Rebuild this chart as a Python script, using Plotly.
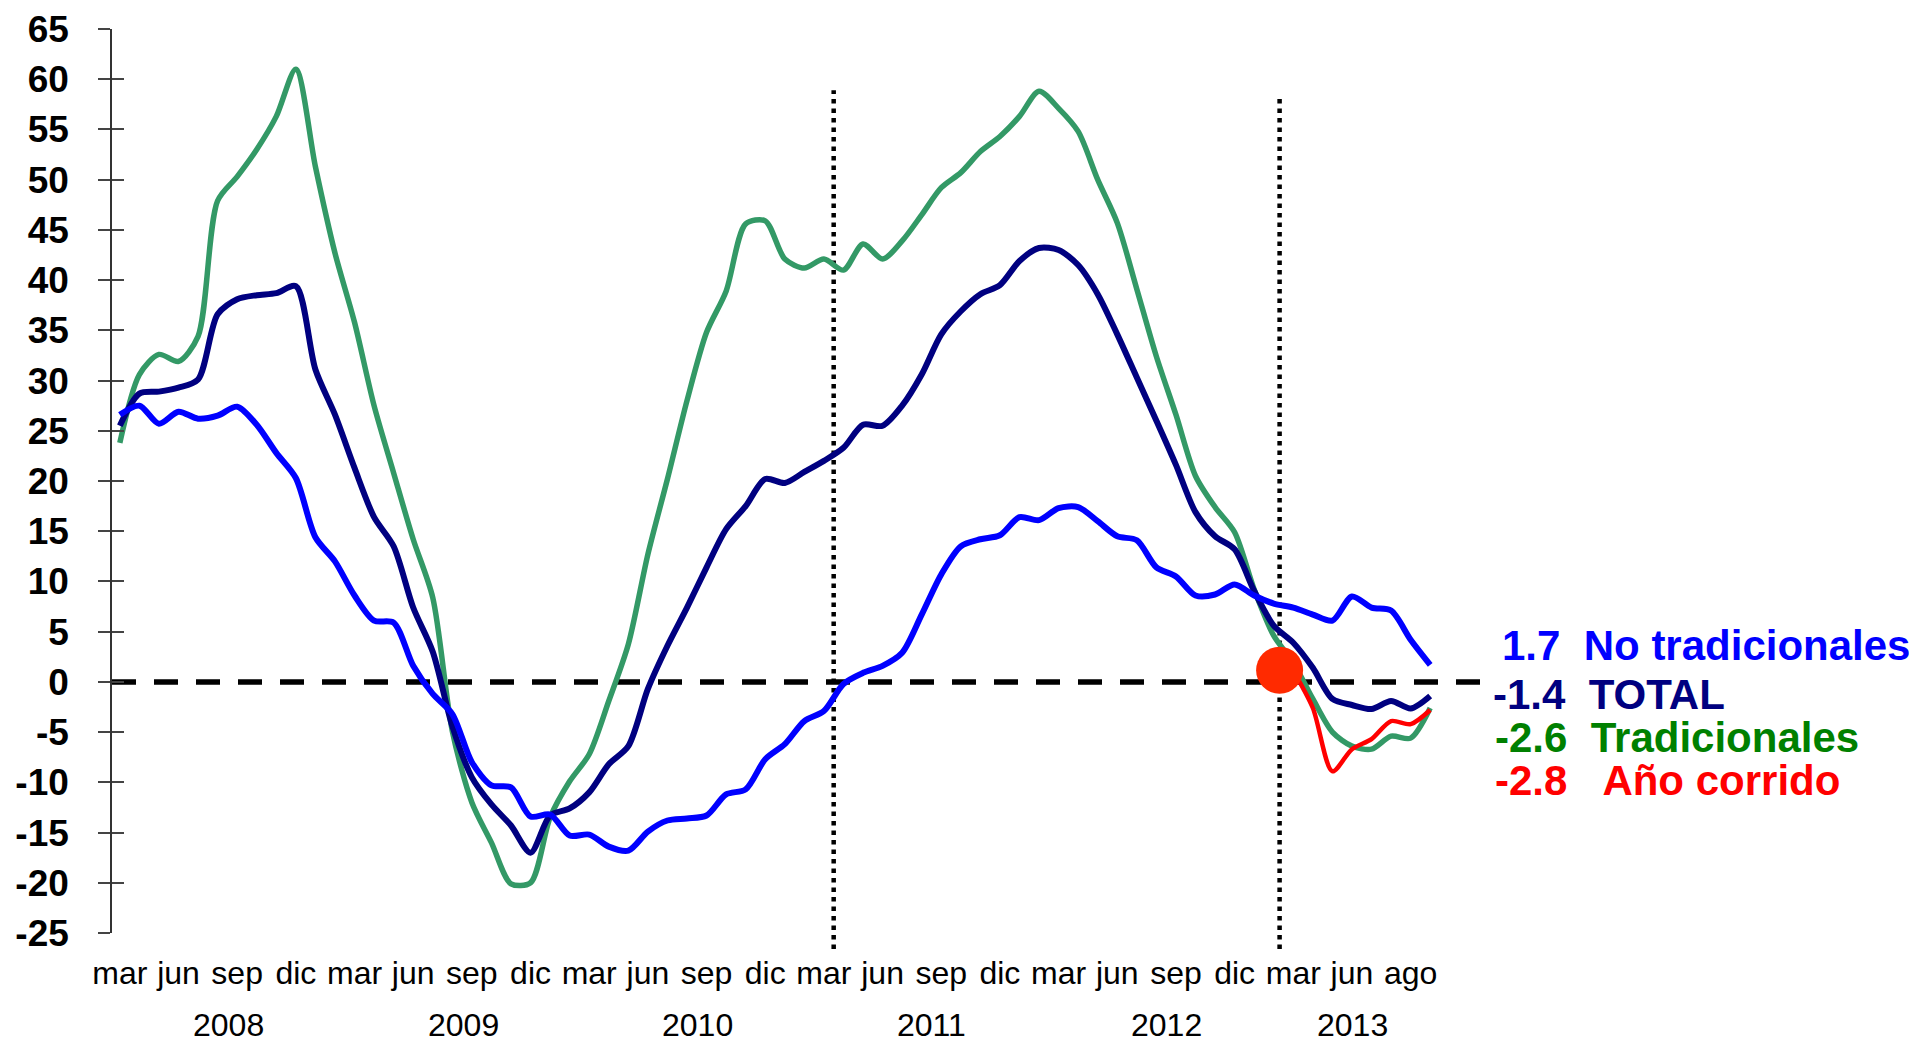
import plotly.graph_objects as go

# ---------------- data ----------------
# month index: 0 = mar 2008, monthly steps
month_idx = list(range(68))

no_tradicionales = [26.6, 27.5, 25.7, 26.9, 26.2, 26.5, 27.4, 25.6, 22.8, 20.3,
                    14.4, 12.0, 8.6, 6.1, 5.9, 1.6, -1.2, -3.2, -8.0, -10.3,
                    -10.5, -13.4, -13.2, -15.3, -15.2, -16.4, -16.8, -14.9, -13.8, -13.6,
                    -13.3, -11.2, -10.7, -7.7, -6.2, -3.9, -2.9, -0.2, 0.9, 1.6,
                    2.9, 6.7, 10.7, 13.5, 14.2, 14.6, 16.4, 16.1, 17.3, 17.4,
                    16.0, 14.5, 14.1, 11.4, 10.5, 8.6, 8.7, 9.7, 8.6, 7.8,
                    7.4, 6.7, 6.1, 8.5, 7.4, 7.1, 4.2, 1.7]

total = [25.5, 28.7, 28.9, 29.3, 30.1, 36.6, 38.1, 38.5, 38.7, 39.4,
         31.1, 26.6, 21.3, 16.4, 13.5, 7.4, 3.0, -4.4, -9.5, -12.2,
         -14.3, -17.0, -13.3, -12.6, -11.0, -8.2, -6.4, -0.7, 3.6, 7.4,
         11.4, 15.2, 17.5, 20.2, 19.8, 20.9, 22.0, 23.3, 25.6, 25.5,
         27.5, 30.6, 34.6, 36.9, 38.6, 39.5, 41.9, 43.2, 43.0, 41.5,
         38.6, 34.6, 30.3, 26.0, 21.6, 16.9, 14.5, 13.2, 9.05, 5.6,
         3.9, 1.4, -1.7, -2.3, -2.7, -1.9, -2.65, -1.4]

tradicionales = [23.8, 30.6, 32.6, 31.9, 34.4, 47.9, 50.3, 53.0, 56.3, 61.0,
                 51.3, 42.7, 35.8, 27.5, 20.8, 14.2, 8.4, -4.9, -12.0, -16.0,
                 -20.1, -20.0, -13.5, -9.9, -7.2, -1.9, 3.75, 12.7, 20.2, 28.0,
                 34.8, 38.9, 45.6, 45.9, 42.1, 41.2, 42.1, 41.0, 43.6, 42.1,
                 43.9, 46.5, 49.2, 50.7, 52.8, 54.3, 56.3, 58.8, 57.1, 54.8,
                 50.0, 45.7, 39.1, 32.4, 26.6, 20.5, 17.4, 14.9, 9.2, 4.6,
                 1.9, -1.7, -5.0, -6.4, -6.7, -5.4, -5.6, -2.6]

anio_idx = list(range(60, 68))
anio_corrido = [1.1, -2.6, -8.9, -6.7, -5.7, -3.9, -4.2, -2.8]

# highlighted point and reference lines
marker_x = [59.3]
marker_y = [1.16]
ref_lines_x = [36.5, 59.3]
ref_lines_top = [58.9, 58.25]
ref_lines_bottom = -26.6

# axis labels
y_ticks = list(range(-25, 70, 5))
y_tick_text = [str(v) for v in y_ticks]
x_tick_pos = list(range(0, 64, 3)) + [66]
x_tick_text = ["mar", "jun", "sep", "dic"] * 5 + ["mar", "jun", "ago"]
year_text = ["2008", "2009", "2010", "2011", "2012", "2013"]
year_pos = [5.55, 17.55, 29.55, 41.5, 53.5, 63.05]

# end labels
end_values = ["1.7", "-1.4", "-2.6", "-2.8"]
end_names = ["No tradicionales", "TOTAL", "Tradicionales", "Año corrido"]
end_gaps = ["\u00a0\u00a0", "\u00a0\u00a0", "\u00a0\u00a0", "\u00a0\u00a0\u00a0"]
end_colors = ["#0000FF", "#000080", "#008000", "#FF0000"]
end_y = [3.6, -1.25, -5.55, -9.8]
end_x = [1.0123, 1.0056, 1.0074, 1.0074]

X_RANGE = [-0.4, 69.7]
Y_RANGE = [-25, 65]
FONT = "Liberation Sans, Arial, sans-serif"

# ---------------- figure ----------------
fig = go.Figure()

fig.add_trace(go.Scatter(x=month_idx, y=tradicionales, mode="lines",
                         line=dict(color="#339966", width=5.5, shape="spline", smoothing=0.8),
                         name="Tradicionales", hoverinfo="skip"))
fig.add_trace(go.Scatter(x=month_idx, y=total, mode="lines",
                         line=dict(color="#000080", width=6, shape="spline", smoothing=0.8),
                         name="TOTAL", hoverinfo="skip"))
fig.add_trace(go.Scatter(x=month_idx, y=no_tradicionales, mode="lines",
                         line=dict(color="#0000FF", width=6, shape="spline", smoothing=0.8),
                         name="No tradicionales", hoverinfo="skip"))
fig.add_trace(go.Scatter(x=anio_idx, y=anio_corrido, mode="lines",
                         line=dict(color="#FF0000", width=4.5, shape="spline", smoothing=0.8),
                         name="Año corrido", hoverinfo="skip"))
fig.add_trace(go.Scatter(x=marker_x, y=marker_y, mode="markers",
                         marker=dict(color="#FF2A00", size=47, line=dict(width=0)),
                         cliponaxis=False, hoverinfo="skip"))
# trace to activate the overlay axis carrying the inner halves of the ticks
fig.add_trace(go.Scatter(x=[None], y=[None], yaxis="y2", mode="lines", hoverinfo="skip"))

ymin, ymax = Y_RANGE
shapes = [dict(type="line", xref="x", yref="y", x0=X_RANGE[0], x1=X_RANGE[1], y0=0, y1=0,
               line=dict(color="black", width=5.5, dash="24px,18px"), layer="below")]
for xv, top in zip(ref_lines_x, ref_lines_top):
    shapes.append(dict(type="line", xref="x", yref="paper", x0=xv, x1=xv,
                       y0=(ref_lines_bottom - ymin) / (ymax - ymin),
                       y1=(top - ymin) / (ymax - ymin),
                       line=dict(color="black", width=4.5, dash="4.5px,5px"), layer="below"))

annotations = []
for t, p in zip(year_text, year_pos):
    annotations.append(dict(text=t, x=p, xref="x", y=-0.102, yref="paper",
                            xanchor="center", yanchor="middle", showarrow=False,
                            font=dict(family=FONT, size=32, color="black")))
for v, g, n, c, yv, xv in zip(end_values, end_gaps, end_names, end_colors, end_y, end_x):
    annotations.append(dict(text=v + g + n, x=xv, xref="paper", y=yv, yref="y",
                            xanchor="left", yanchor="middle", showarrow=False,
                            font=dict(family=FONT, size=42, color=c, weight="bold")))

# the page body adds an 8px margin; the figure is sized/offset to compensate
fig.update_layout(
    width=1909, height=1036,
    margin=dict(l=104, r=434, t=21, b=111, autoexpand=False),
    paper_bgcolor="white", plot_bgcolor="white",
    showlegend=False,
    shapes=shapes, annotations=annotations,
    xaxis=dict(range=X_RANGE, tickvals=x_tick_pos, ticktext=x_tick_text,
               showline=False, showgrid=False, zeroline=False, ticks="",
               automargin=False, ticklabelstandoff=18,
               tickfont=dict(family=FONT, size=32, color="black")),
    yaxis=dict(range=Y_RANGE, tickvals=y_ticks, ticktext=y_tick_text,
               showgrid=False, zeroline=False,
               showline=True, linecolor="#333333", linewidth=1.5,
               ticks="outside", ticklen=12, tickwidth=1.5, tickcolor="#444444",
               automargin=False, ticklabelstandoff=22,
               tickfont=dict(family=FONT, size=37, color="black", weight="bold")),
    yaxis2=dict(range=Y_RANGE, tickvals=y_ticks, overlaying="y", side="left",
                showgrid=False, zeroline=False, showline=False, showticklabels=False,
                automargin=False,
                ticks="inside", ticklen=12, tickwidth=1.5, tickcolor="#444444"),
)

fig.write_html("out.html")
